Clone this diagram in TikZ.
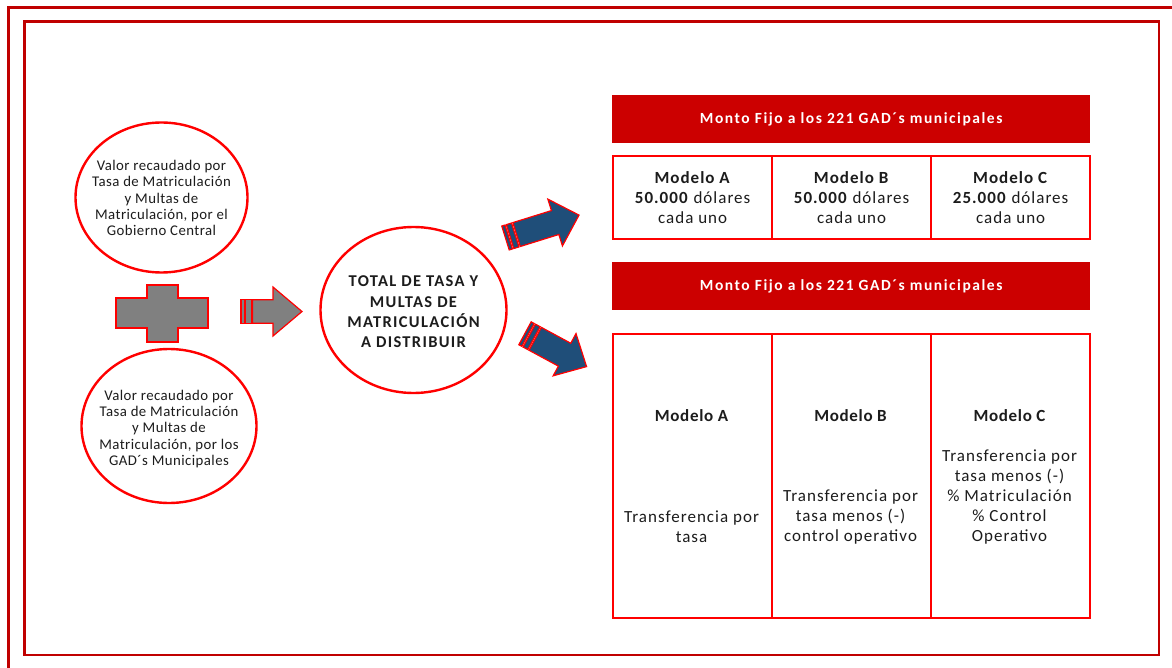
\documentclass[tikz,border=0pt]{standalone}
\usepackage{fontspec}
\setmainfont{Carlito}
\usetikzlibrary{shapes.geometric}

\definecolor{frameRed}{HTML}{C00000}
\definecolor{lineRed}{HTML}{FF0000}
\definecolor{headRed}{HTML}{CC0000}
\definecolor{arrowGray}{HTML}{808080}
\definecolor{arrowBlue}{HTML}{1F4E79}
\definecolor{ink}{HTML}{1C1C1C}

\tikzset{
  frame/.style={draw=frameRed, line width=2.6pt},
  bubble/.style={ellipse, draw=lineRed, line width=2.4pt, fill=white, inner sep=0pt},
  cell/.style={draw=lineRed, line width=2.3pt, fill=white, inner sep=0pt,
    minimum width=159pt, anchor=north west},
  banner/.style={fill=headRed, inner sep=0pt, anchor=north west,
    minimum width=478pt, minimum height=48pt, text=white,
    font=\fontsize{15.5}{18}\selectfont\bfseries\addfontfeatures{LetterSpace=10}},
  bubbletext/.style={align=center, text=ink, inner sep=0pt,
    font=\fontsize{14.8}{16.3}\selectfont\addfontfeatures{LetterSpace=3}},
  totaltext/.style={align=center, text=ink, inner sep=0pt,
    font=\fontsize{16.5}{20.3}\selectfont\bfseries\addfontfeatures{LetterSpace=8}},
  celltext/.style={align=center, text=ink, inner sep=0pt,
    font=\fontsize{17}{20}\selectfont\addfontfeatures{LetterSpace=6}},
  cellhead/.style={celltext,
    font=\fontsize{17}{20}\selectfont\bfseries\addfontfeatures{LetterSpace=4}},
  plus/.style={fill=arrowGray, draw=lineRed, line width=1.4pt},
  % striped block arrow: origin at the middle of the tail, pointing along +x
  arrowlen/.store in=\arrL, headlen/.store in=\arrH,
  headhalf/.store in=\arrW, shafthalf/.store in=\arrS,
  arrowlen=61, headlen=29, headhalf=24.5, shafthalf=11.7,
  striped arrow/.pic={
    \path[pic actions] (0,-\arrS) rectangle (3.4,\arrS);
    \path[pic actions] (4.8,-\arrS) rectangle (10.2,\arrS);
    \path[pic actions] (11.6,-\arrS) -- ({\arrL-\arrH},-\arrS) -- ({\arrL-\arrH},-\arrW)
      -- (\arrL,0) -- ({\arrL-\arrH},\arrW) -- ({\arrL-\arrH},\arrS) -- (11.6,\arrS) -- cycle;
  },
  grayarrow/.style={fill=arrowGray, draw=lineRed, line width=1.2pt, line join=miter},
  bluearrow/.style={fill=arrowBlue, draw=lineRed, line width=1.2pt, line join=miter},
}

\begin{document}
\begin{tikzpicture}[x=1pt, y=-1pt]
  \useasboundingbox (0,0) rectangle (1172,668);
  \fill[white] (0,0) rectangle (1172,668);

  % double frame
  \draw[frame] (8.5,7.5) rectangle (1195,695);
  \draw[frame] (24.5,21.5) rectangle (1159,655);

  % the two sources
  \node[bubble, minimum width=172pt, minimum height=150pt] (gobierno) at (161.5,197.5) {};
  \node[bubbletext] (gobiernotxt) at (161.5,198)
    {Valor recaudado por\\Tasa de Matriculación\\y Multas de\\Matriculación, por el\\Gobierno Central};

  \node[bubble, minimum width=175pt, minimum height=154pt] (gad) at (169,426) {};
  \node[bubbletext] (gadtxt) at (169,429)
    {Valor recaudado por\\Tasa de Matriculación\\y Multas de\\Matriculación, por los\\GAD´s Municipales};

  % plus sign between the sources
  \draw[plus] (147,285) -- (178,285) -- (178,298) -- (208,298) -- (208,328) -- (178,328)
    -- (178,342) -- (147,342) -- (147,328) -- (116,328) -- (116,298) -- (147,298) -- cycle;

  % total to distribute
  \node[bubble, minimum width=186pt, minimum height=166pt] (total) at (413.5,310) {};
  \node[totaltext] (totaltxt) at (413.5,312)
    {TOTAL DE TASA Y\\MULTAS DE\\MATRICULACIÓN\\A DISTRIBUIR};

  \coordinate (grayTail) at (241,311.5);
  \coordinate (upTail) at (505.5,238);
  \coordinate (downTail) at (525,333.3);
  \pic[grayarrow] at (grayTail) {striped arrow};
  \pic[bluearrow, rotate=17.3, arrowlen=77, headlen=25, headhalf=24.5, shafthalf=12.5]
    at (upTail) {striped arrow};
  \pic[bluearrow, rotate=-28.4, arrowlen=70, headlen=25, headhalf=24, shafthalf=13]
    at (downTail) {striped arrow};

  % fixed amount per model
  \node[banner] (fijo1) at (612,95) {Monto Fijo a los 221 GAD´s municipales};
  \node[cell, minimum height=83pt] (fa) at (612,155) {};
  \node[cell, minimum height=83pt] (fb) at (771,155) {};
  \node[cell, minimum height=83pt] (fc) at (930,155) {};
  \node[celltext] at (fa.center) {\textbf{Modelo A}\\\textbf{50.000} dólares\\cada uno};
  \node[celltext] at (fb.center) {\textbf{Modelo B}\\\textbf{50.000} dólares\\cada uno};
  \node[celltext] at (fc.center) {\textbf{Modelo C}\\\textbf{25.000} dólares\\cada uno};

  % transfer rule per model
  \node[banner] (fijo2) at (612,262) {Monto Fijo a los 221 GAD´s municipales};
  \node[cell, minimum height=284pt] (ta) at (612,333) {};
  \node[cell, minimum height=284pt] (tb) at (771,333) {};
  \node[cell, minimum height=284pt] (tc) at (930,333) {};
  \node[cellhead] at (691.5,416) {Modelo A};
  \node[cellhead] at (850.5,416) {Modelo B};
  \node[cellhead] at (1009.5,416) {Modelo C};
  \node[celltext] at (691.5,527) {Transferencia por\\tasa};
  \node[celltext] at (850.5,517) {Transferencia por\\tasa menos (-)\\control operativo};
  \node[celltext] at (1009.5,497)
    {Transferencia por\\tasa menos (-)\\\% Matriculación\\\% Control\\Operativo};
\end{tikzpicture}
\end{document}
